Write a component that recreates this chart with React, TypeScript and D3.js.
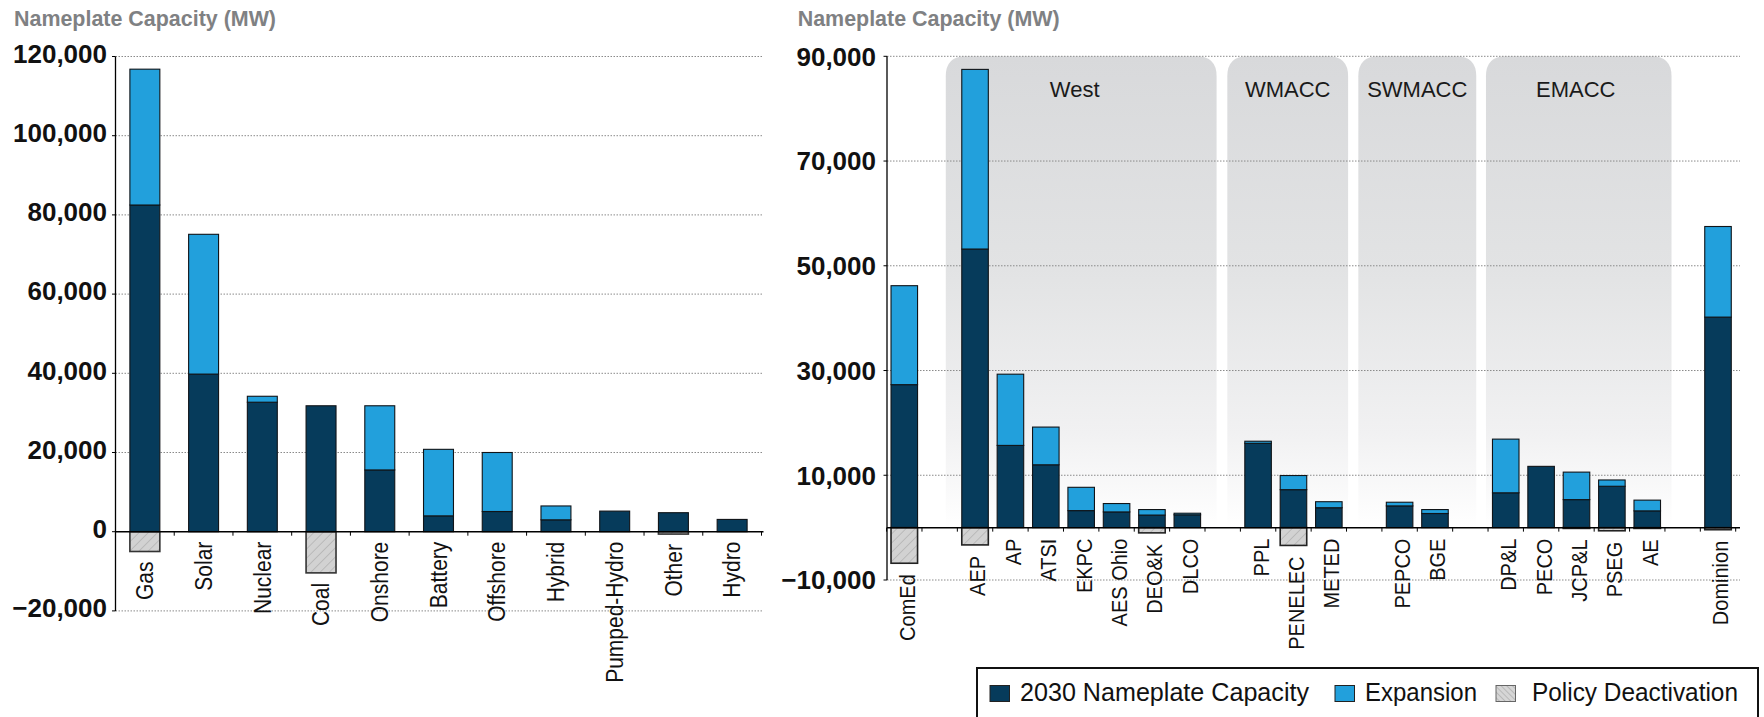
import React from 'react';
import * as d3 from 'd3';

// ---------- Left chart data (by resource type) ----------
const fuelCategories = ['Gas', 'Solar', 'Nuclear', 'Coal', 'Onshore', 'Battery', 'Offshore', 'Hybrid', 'Pumped-Hydro', 'Other', 'Hydro'];
const fuelCapacity2030 = [82500, 39800, 32700, 31800, 15600, 4000, 5100, 3000, 5200, 4800, 3100];
const fuelExpansion = [34300, 35300, 1500, 0, 16200, 16800, 14900, 3500, 0, 0, 0];
const fuelDeactivation = [-5000, 0, 0, -10400, 0, 0, 0, 0, 0, -600, 0];
const fuelTicks = [-20000, 0, 20000, 40000, 60000, 80000, 100000, 120000];

// ---------- Right chart data (by zone) ----------
const zoneSlots = ['ComEd', 'gap1', 'AEP', 'AP', 'ATSI', 'EKPC', 'AES Ohio', 'DEO&K', 'DLCO', 'gap2', 'PPL', 'PENELEC', 'METED', 'gap3', 'PEPCO', 'BGE', 'gap4', 'DP&L', 'PECO', 'JCP&L', 'PSEG', 'AE', 'gap5', 'Dominion'];
const zoneNames = ['ComEd', 'AEP', 'AP', 'ATSI', 'EKPC', 'AES Ohio', 'DEO&K', 'DLCO', 'PPL', 'PENELEC', 'METED', 'PEPCO', 'BGE', 'DP&L', 'PECO', 'JCP&L', 'PSEG', 'AE', 'Dominion'];
const zoneCapacity2030 = [27300, 53200, 15700, 12000, 3250, 3000, 2400, 2450, 16100, 7250, 3800, 4150, 2700, 6650, 11700, 5350, 7900, 3200, 40200];
const zoneExpansion = [18900, 34300, 13600, 7200, 4450, 1600, 1050, 300, 400, 2700, 1150, 700, 750, 10250, 0, 5250, 1200, 2050, 17300];
const zoneDeactivation = [-6800, -3300, 0, 0, 0, 0, -1000, 0, 0, -3400, 0, 0, 0, 0, 0, -150, -600, -150, -400];
const zoneTicks = [-10000, 10000, 30000, 50000, 70000, 90000];

const regionNames = ['West', 'WMACC', 'SWMACC', 'EMACC'];
const regionFirst = ['AEP', 'PPL', 'PEPCO', 'DP&L'];
const regionLast = ['DLCO', 'METED', 'BGE', 'AE'];

const seriesKeys = ['cap', 'exp', 'deact'];
const seriesLabels = ['2030 Nameplate Capacity', 'Expansion', 'Policy Deactivation'];

// ---------- Styles / layout ----------
const DARK = '#063b5b';
const BLUE = '#22a0dc';
const FONT = '"Liberation Sans", Arial, sans-serif';
const regionPadLeft = [16, 17.5, 28, 6.5];
const regionPadRight = [16, 6, 28, 11];
const regionLabelShift = [-6.5, 0, 0, -3];

const fmt = d3.format(',');

function buildStack(cats: string[], cap: number[], exp: number[], deact: number[]) {
  const rows = cats.map((c, i) => ({ cat: c, cap: cap[i], exp: exp[i], deact: deact[i] }));
  const stack = d3.stack<any>().keys(seriesKeys).offset(d3.stackOffsetDiverging);
  return { rows, series: stack(rows) };
}

const fills: Record<string, string> = { cap: DARK, exp: BLUE, deact: 'url(#hatchBar)' };

function Bars({ series, x, y, strokeDeact }: any) {
  return (
    <g>
      {series.map((s: any) => (
        <g key={s.key}>
          {s.map((d: any, i: number) => {
            const y0 = y(d[0]);
            const y1 = y(d[1]);
            const h = Math.abs(y0 - y1);
            if (h < 0.3) return null;
            return (
              <rect
                key={i}
                x={x(d.data.cat)}
                y={Math.min(y0, y1)}
                width={x.bandwidth()}
                height={h}
                fill={fills[s.key]}
                stroke={s.key === 'deact' ? strokeDeact : '#101418'}
                strokeWidth={s.key === 'deact' ? 1.6 : 1.1}
              />
            );
          })}
        </g>
      ))}
    </g>
  );
}

export default function App() {
  // Left scales
  const Lx = d3.scaleBand<string>().domain(fuelCategories).range([115.5, 761.5]).paddingInner(0.49).paddingOuter(0.245);
  const Ly = d3.scaleLinear().domain([-20000, 120000]).range([610.9, 56.5]);
  const left = buildStack(fuelCategories, fuelCapacity2030, fuelExpansion, fuelDeactivation);

  // Right scales
  const Rx = d3.scaleBand<string>().domain(zoneSlots).range([886.6, 1735.7]).paddingInner(0.25).paddingOuter(0.125);
  const Ry = d3.scaleLinear().domain([-10000, 90000]).range([580, 56.3]);
  const right = buildStack(zoneNames, zoneCapacity2030, zoneExpansion, zoneDeactivation);

  const L0 = Ly(0);
  const R0 = Ry(0);
  const LxEnd = 763.5;
  const RxEnd = 1740;

  const leftBoundaries = d3.range(fuelCategories.length + 1).map((i) => Lx.range()[0] + i * Lx.step());
  const rightBoundaries = d3.range(zoneSlots.length + 1).map((i) => Rx.range()[0] + i * Rx.step());

  return (
    <svg width={1764} height={717} style={{ position: 'absolute', left: 0, top: 0, background: '#fff' }} fontFamily={FONT}>
      <defs>
        <pattern id="hatchBar" patternUnits="userSpaceOnUse" width="6.5" height="6.5" patternTransform="rotate(45)">
          <rect width="6.5" height="6.5" fill="#d2d2d2" />
          <line x1="0" y1="0" x2="0" y2="6.5" stroke="#a2a2a2" strokeWidth="1" />
        </pattern>
        <pattern id="hatchLegend" patternUnits="userSpaceOnUse" width="4" height="4" patternTransform="rotate(-45)">
          <rect width="4" height="4" fill="#d6d6d6" />
          <line x1="0" y1="0" x2="0" y2="4" stroke="#9a9a9a" strokeWidth="1" />
        </pattern>
        <linearGradient id="regionBg" gradientUnits="userSpaceOnUse" x1="0" y1={Ry(90000)} x2="0" y2={R0}>
          <stop offset="0" stopColor="#d8d9db" />
          <stop offset="0.45" stopColor="#e2e3e4" />
          <stop offset="0.8" stopColor="#f1f1f2" />
          <stop offset="1" stopColor="#ffffff" />
        </linearGradient>
      </defs>

      {/* ===== LEFT CHART ===== */}
      <text x={14} y={25.5} fontSize={21.4} fontWeight="bold" fill="#7f8183" textLength={262} lengthAdjust="spacingAndGlyphs">
        Nameplate Capacity (MW)
      </text>
      {fuelTicks.filter((t) => t !== 0).map((t) => (
        <line key={t} x1={115.5} x2={LxEnd} y1={Ly(t)} y2={Ly(t)} stroke="#8a8a8a" strokeWidth={1} strokeDasharray="1.5,1.5" />
      ))}
      {fuelTicks.map((t) => (
        <g key={'lt' + t}>
          <line x1={112} x2={115.5} y1={Ly(t)} y2={Ly(t)} stroke="#000" strokeWidth={1} />
          <text x={107} y={Ly(t) - 3} dy="0.36em" textAnchor="end" fontSize={26} fontWeight="bold" fill="#111">
            {fmt(t)}
          </text>
        </g>
      ))}
      <Bars series={left.series} x={Lx} y={Ly} strokeDeact="#333" />
      <line x1={115.5} x2={115.5} y1={Ly(120000)} y2={Ly(-20000)} stroke="#000" strokeWidth={1.3} />
      <line x1={115.5} x2={LxEnd} y1={L0} y2={L0} stroke="#000" strokeWidth={1.5} />
      {leftBoundaries.map((bx, i) => (
        <line key={'lb' + i} x1={bx} x2={bx} y1={L0} y2={L0 + 4} stroke="#000" strokeWidth={1} />
      ))}
      {left.rows.map((r) => {
        const bottom = Math.max(L0, Ly(r.deact));
        const cx = (Lx(r.cat) as number) + Lx.bandwidth() / 2;
        return (
          <text key={'ll' + r.cat} transform={`translate(${cx},${bottom + 10}) rotate(-90) scale(1,1.12)`} textAnchor="end" dy="0.35em" fontSize={21} fill="#111">
            {r.cat}
          </text>
        );
      })}

      {/* ===== RIGHT CHART ===== */}
      <text x={797.7} y={25.5} fontSize={21.4} fontWeight="bold" fill="#7f8183" textLength={262} lengthAdjust="spacingAndGlyphs">
        Nameplate Capacity (MW)
      </text>
      {regionNames.map((name, i) => {
        const x0 = (Rx(regionFirst[i]) as number) - regionPadLeft[i];
        const x1 = (Rx(regionLast[i]) as number) + Rx.bandwidth() + regionPadRight[i];
        const top = Ry(90000);
        const r = 20;
        const path = `M${x0},${R0} L${x0},${top + r} Q${x0},${top} ${x0 + r},${top} L${x1 - r},${top} Q${x1},${top} ${x1},${top + r} L${x1},${R0} Z`;
        return (
          <g key={name}>
            <path d={path} fill="url(#regionBg)" />
            <text x={(x0 + x1) / 2 + regionLabelShift[i]} y={97} textAnchor="middle" fontSize={22} fill="#1a1a1a">
              {name}
            </text>
          </g>
        );
      })}
      {zoneTicks.map((t) => (
        <line key={'rg' + t} x1={887} x2={RxEnd} y1={Ry(t)} y2={Ry(t)} stroke="#8a8a8a" strokeWidth={1} strokeDasharray="1.5,1.5" />
      ))}
      {zoneTicks.map((t) => (
        <g key={'rt' + t}>
          <line x1={883.5} x2={887} y1={Ry(t)} y2={Ry(t)} stroke="#000" strokeWidth={1} />
          <text x={876} y={Ry(t)} dy="0.36em" textAnchor="end" fontSize={26} fontWeight="bold" fill="#111">
            {fmt(t)}
          </text>
        </g>
      ))}
      <Bars series={right.series} x={Rx} y={Ry} strokeDeact="#222" />
      <line x1={887} x2={887} y1={Ry(90000)} y2={Ry(-10000)} stroke="#000" strokeWidth={1.3} />
      <line x1={887} x2={RxEnd} y1={R0} y2={R0} stroke="#000" strokeWidth={1.5} />
      {rightBoundaries.map((bx, i) => (
        <line key={'rb' + i} x1={bx} x2={bx} y1={R0} y2={R0 + 4} stroke="#000" strokeWidth={1} />
      ))}
      {right.rows.map((r) => {
        const bottom = Math.max(R0, Ry(r.deact));
        const cx = (Rx(r.cat) as number) + Rx.bandwidth() / 2 + 3;
        return (
          <text key={'rl' + r.cat} transform={`translate(${cx},${bottom + 11}) rotate(-90) scale(1,1.06)`} textAnchor="end" dy="0.35em" fontSize={20} fill="#111">
            {r.cat}
          </text>
        );
      })}

      {/* ===== LEGEND ===== */}
      <rect x={977} y={668} width={781} height={70} fill="#fff" stroke="#111" strokeWidth={2} />
      {seriesKeys.map((k, i) => {
        const sx = [990, 1335, 1496][i];
        const tx = [1020, 1365, 1532][i];
        const tl = [289, 112, 206][i];
        return (
          <g key={'lg' + k}>
            <rect x={sx} y={685.5} width={19.5} height={16} fill={k === 'deact' ? 'url(#hatchLegend)' : fills[k]} stroke={k === 'deact' ? '#666' : '#222'} strokeWidth={1} />
            <text x={tx} y={701} fontSize={25} fill="#111" textLength={tl} lengthAdjust="spacingAndGlyphs">
              {seriesLabels[i]}
            </text>
          </g>
        );
      })}
    </svg>
  );
}
